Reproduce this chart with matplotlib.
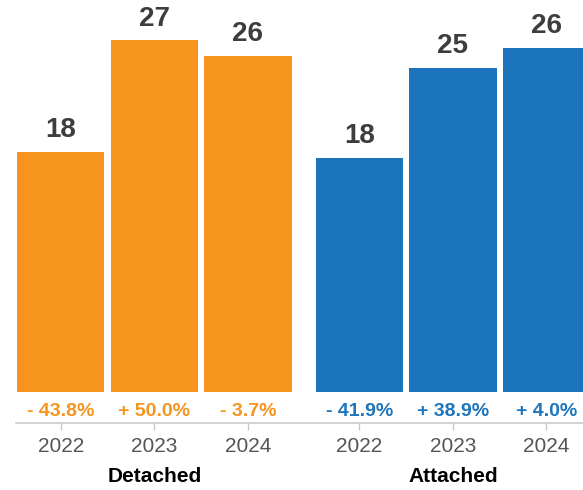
import matplotlib.pyplot as plt

# ------------ data ------------ #
years = ["2022", "2023", "2024"]
groups = ["Detached", "Attached"]
detached = [18.45, 27.0, 25.8]
attached = [18.0, 24.9, 26.4]
detached_pct = ["- 43.8%", "+ 50.0%", "- 3.7%"]
attached_pct = ["- 41.9%", "+ 38.9%", "+ 4.0%"]

colors = ["#F7941E", "#1C75BC"]

plt.rcParams['font.family'] = ['Liberation Sans', 'DejaVu Sans']

fig = plt.figure(figsize=(5.83, 4.9), dpi=100)
ax = fig.add_axes([16 / 583, 66.7 / 490, 1 - 16 / 583, 1 - 66.7 / 490])

group_gap = 3.19  # offset of second facet in bar units
series = [detached, attached]
pcts = [detached_pct, attached_pct]

xticks = []
for g in range(len(groups)):
    xs = [g * group_gap + i for i in range(len(years))]
    xticks += xs
    ax.bar(xs, series[g], width=0.935, color=colors[g], linewidth=0)
    for x, v, p in zip(xs, series[g], pcts[g]):
        ax.annotate(f"{v:.0f}", (x, v), xytext=(0, 10.5), textcoords="offset points",
                    ha="center", va="baseline", fontsize=20, fontweight="bold",
                    color="#3d3d3d")
        ax.text(x, -1.49, p, ha="center", va="center", fontsize=14,
                fontweight="bold", color=colors[g])
    ax.text(xs[1], -0.1245, groups[g], transform=ax.get_xaxis_transform(),
            ha="center", va="center", fontsize=15, fontweight="bold", color="black")

ax.set_xticks(xticks)
ax.set_xticklabels(years * len(groups))
ax.tick_params(axis="x", length=5, width=1, color="#c8c8c8", pad=5,
               labelsize=15, labelcolor="#555555")
ax.set_yticks([])

ax.set_xlim(-0.4776, (583 - 60.7) / 93.6)
ax.set_ylim(-2.38, 30.08)

for s in ["top", "right", "left"]:
    ax.spines[s].set_visible(False)
ax.spines["bottom"].set_color("#cccccc")
ax.spines["bottom"].set_linewidth(1.2)

fig.savefig("out.png", dpi=100)
